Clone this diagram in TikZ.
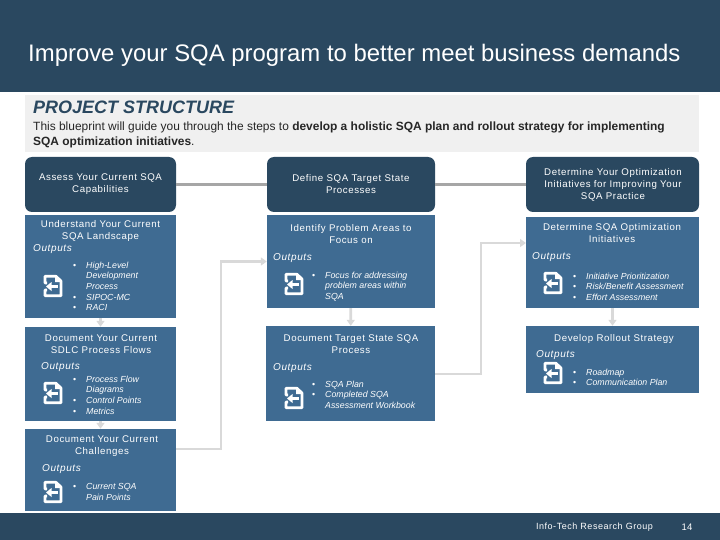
\documentclass[tikz,border=0pt]{standalone}
\usepackage{fontspec}
\setmainfont{Liberation Sans}
\usetikzlibrary{arrows.meta,calc}
\definecolor{headblue}{HTML}{2A4860}
\definecolor{boxblue}{HTML}{3F6B92}
\definecolor{panelgray}{HTML}{F0F0F0}
\definecolor{linegray}{HTML}{A6A6A6}
\definecolor{softgray}{HTML}{D9D9D9}
% one bullet line, the second macro for a wrapped line
\newcommand{\itemline}[1]{\makebox[13pt][l]{\textbullet}\textit{#1}}
\newcommand{\wrapline}[1]{\hspace*{13pt}\textit{#1}}
\begin{document}
\begin{tikzpicture}[
    x=1pt, y=-1pt,
    band/.style={fill=headblue, inner sep=0pt, minimum width=720pt},
    stagebox/.style={fill=headblue, rounded corners=7pt, inner sep=0pt, minimum height=55pt},
    taskbox/.style={fill=boxblue, inner sep=0pt},
    boxtitle/.style={text=white, align=center, font=\fontsize{9.7}{12}\selectfont\addfontfeature{LetterSpace=6}},
    outlabel/.style={text=white, anchor=west, inner sep=0pt, yshift=-1.2pt, font=\fontsize{10}{12}\selectfont\itshape\addfontfeature{LetterSpace=6}},
    outlist/.style={text=white, align=left, anchor=north west, inner sep=0pt, font=\fontsize{8.8}{10.7}\selectfont},
    mainline/.style={draw=linegray, line width=2.5pt},
    softline/.style={draw=softgray, line width=2.6pt},
    softarrow/.style={softline, -{Triangle[length=6pt,width=8pt]}},
    icon/.pic={
        \draw[white, line width=2.7pt, line join=round] (-6,-3) -- (-8,-3) -- (-8,-9.7) -- (3,-9.7) -- (8,-5) -- (8,9.7) -- (-8,9.7) -- (-8,4) -- (-6,4);
        \fill[white] (2,-10) -- (2,-4) -- (8,-4) -- cycle;
        \draw[white, line width=2.4pt] (4.5,0.5) -- (-3,0.5);
        \fill[white] (-7,0.5) -- (-1.5,-4) -- (-1.5,5) -- cycle;
    }
]
\useasboundingbox (0,0) rectangle (720,540);

\node[band, minimum height=92pt] (header) at (360,46) {};
\node[band, minimum height=27pt] (footer) at (360,526.5) {};
\node[fill=panelgray, inner sep=0pt, minimum width=674pt, minimum height=57pt] (panel) at (362,123.5) {};

\node[text=white, anchor=west, inner sep=0pt, font=\fontsize{23.9}{28}\selectfont] (title) at (28,55) {Improve your SQA program to better meet business demands};
\node[text=headblue, anchor=west, inner sep=0pt, font=\fontsize{18}{20}\selectfont\bfseries\itshape] (structure) at (33,107) {PROJECT STRUCTURE};
\node[anchor=north west, inner sep=0pt, align=left, text=black!85, font=\fontsize{11.95}{14.2}\selectfont] (intro) at (33,122) {This blueprint will guide you through the steps to \textbf{develop a holistic SQA plan and rollout strategy for implementing}\\\textbf{SQA optimization initiatives}.};

\node[text=white, inner sep=0pt, font=\fontsize{9}{10}\selectfont\addfontfeature{LetterSpace=6}] (group) at (594.5,527.5) {Info-Tech Research Group};
\node[text=white, inner sep=0pt, font=\fontsize{9.5}{10}\selectfont] (page) at (687,527.5) {14};

% boxes of the three columns
\node[stagebox, minimum width=151pt] (assess) at (100.5,184.5) {};
\node[taskbox, minimum width=151pt, minimum height=103pt] (landscape) at (100.5,266.5) {};
\node[taskbox, minimum width=151pt, minimum height=94pt] (flows) at (100.5,374) {};
\node[taskbox, minimum width=151pt, minimum height=82pt] (challenges) at (100.5,470) {};

\node[stagebox, minimum width=168pt] (define) at (351,184.5) {};
\node[taskbox, minimum width=168pt, minimum height=93pt] (problem) at (351,261.5) {};
\node[taskbox, minimum width=169pt, minimum height=95pt] (target) at (350.5,373.5) {};

\node[stagebox, minimum width=173pt] (determine) at (612.5,184.5) {};
\node[taskbox, minimum width=173pt, minimum height=91pt] (optimize) at (612.5,262.5) {};
\node[taskbox, minimum width=173pt, minimum height=67pt] (rollout) at (612.5,359.5) {};

% connectors
\draw[mainline] (assess) -- (define);
\draw[mainline] (define) -- (determine);
\draw[softarrow] (landscape) -- (flows);
\draw[softarrow] (flows) -- (challenges);
\draw[softarrow] (problem) -- (target);
\draw[softarrow] (optimize) -- (rollout);
\coordinate (challengesout) at (176,449);
\coordinate (problembend) at (221,261.5);
\draw[softarrow] (challengesout) -| (problembend) -- (problem.west);
\coordinate (targetout) at (435,374);
\coordinate (optimizein) at (526,243);
\coordinate (optimizebend) at (481,243);
\draw[softarrow] (targetout) -| (optimizebend) -- (optimizein);

% titles
\node[boxtitle] (assesstext) at (100.5,184.5) {Assess Your Current SQA\\Capabilities};
\node[boxtitle] (landscapetext) at (100.5,230.5) {Understand Your Current\\SQA Landscape};
\node[boxtitle] (flowstext) at (101,344) {Document Your Current\\SDLC Process Flows};
\node[boxtitle] (challengestext) at (102,446) {Document Your Current\\Challenges};
\node[boxtitle] (definetext) at (351,184.5) {Define SQA Target State\\Processes};
\node[boxtitle] (problemtext) at (351,234) {Identify Problem Areas to\\Focus on};
\node[boxtitle] (targettext) at (351,344) {Document Target State SQA\\Process};
\node[boxtitle] (determinetext) at (613,185) {Determine Your Optimization\\Initiatives for Improving Your\\SQA Practice};
\node[boxtitle] (optimizetext) at (612,233) {Determine SQA Optimization\\Initiatives};
\node[boxtitle] (rollouttext) at (614,338.5) {Develop Rollout Strategy};

% outputs
\node[outlabel] (landscapeout) at (33,248) {Outputs};
\node[outlabel] (flowsout) at (41,366) {Outputs};
\node[outlabel] (challengesoutput) at (42,468) {Outputs};
\node[outlabel] (problemout) at (273,257) {Outputs};
\node[outlabel] (targetoutput) at (273,367) {Outputs};
\node[outlabel] (optimizeout) at (532,256) {Outputs};
\node[outlabel] (rolloutout) at (536,354) {Outputs};

\node[outlist] (landscapelist) at (73,261.5) {\itemline{High-Level}\\\wrapline{Development}\\\wrapline{Process}\\\itemline{SIPOC-MC}\\\itemline{RACI}};
\node[outlist] (flowslist) at (73,375.5) {\itemline{Process Flow}\\\wrapline{Diagrams}\\\itemline{Control Points}\\\itemline{Metrics}};
\node[outlist] (challengeslist) at (73,483.5) {\itemline{Current SQA}\\\wrapline{Pain Points}};
\node[outlist] (problemlist) at (312,271.5) {\itemline{Focus for addressing}\\\wrapline{problem areas within}\\\wrapline{SQA}};
\node[outlist] (targetlist) at (312,380.5) {\itemline{SQA Plan}\\\itemline{Completed SQA}\\\wrapline{Assessment Workbook}};
\node[outlist] (optimizelist) at (573,272.5) {\itemline{Initiative Prioritization}\\\itemline{Risk/Benefit Assessment}\\\itemline{Effort Assessment}};
\node[outlist] (rolloutlist) at (573,368.5) {\itemline{Roadmap}\\\itemline{Communication Plan}};

% file icons
\foreach \px/\py in {53/286, 53/393, 53/492, 294/284, 294/398, 553/283, 553/373}
    \pic at (\px,\py) {icon};
\end{tikzpicture}
\end{document}
